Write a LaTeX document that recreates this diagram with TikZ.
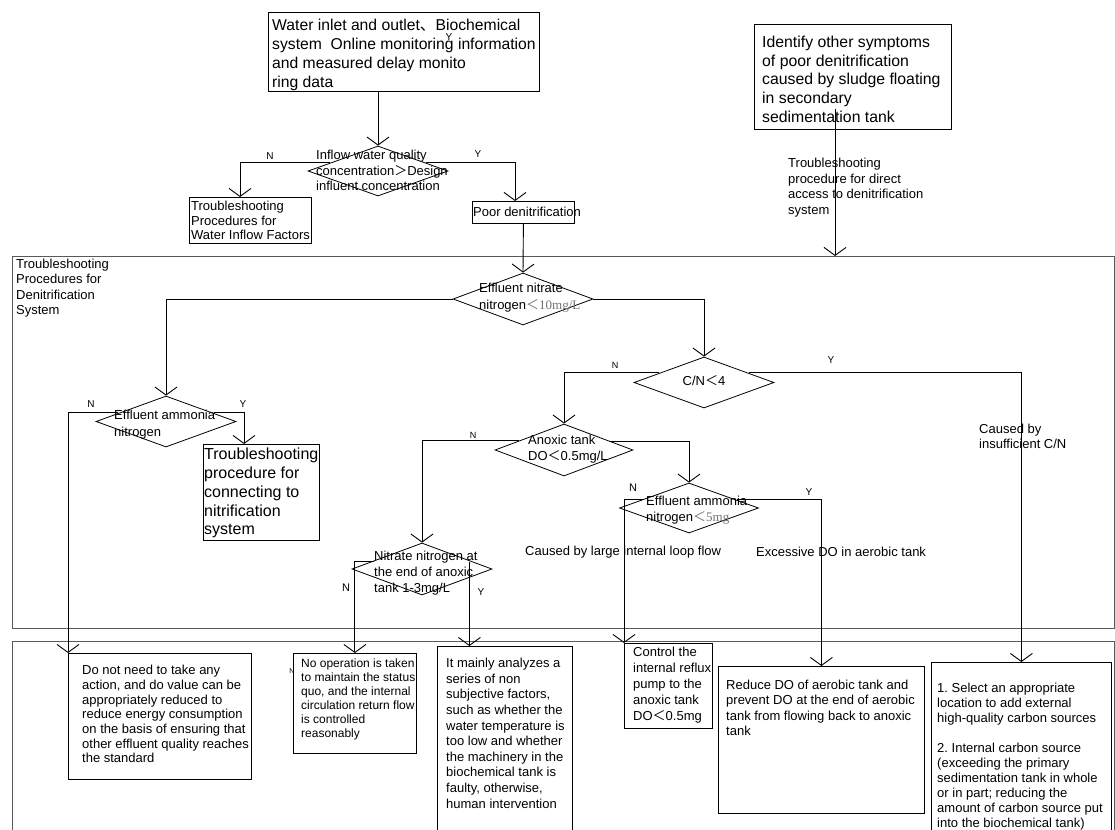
\documentclass[tikz,border=0pt]{standalone}
\usepackage{fontspec}
\setmainfont{Liberation Sans}
\newfontfamily\cjk{Noto Sans CJK SC}
\newfontfamily\serifx{Liberation Serif}
\usetikzlibrary{shapes.geometric,arrows.meta,calc}
\newcommand\myfs[2]{\fontsize{#1}{#2}\selectfont}
\newcommand\fwlt{{\cjk ＜}}
\newcommand\fwgt{{\cjk ＞}}
\frenchspacing
\tikzset{
 box/.style={draw, line width=0.8pt, inner sep=0pt, anchor=north west},
 dia/.style={draw, diamond, inner sep=0pt, line width=0.8pt},
 txt/.style={inner sep=0pt, anchor=north west, align=left},
 lab/.style={inner sep=0pt, font=\myfs{10}{12}},
 arr/.style={line width=0.9pt, -{Straight Barb[length=8pt,width=22pt]}},
 frm/.style={draw=black!65, line width=1.2pt, inner sep=0pt, anchor=north west}
}
\begin{document}
\begin{tikzpicture}[x=1pt,y=-1pt]
\useasboundingbox (0,0) rectangle (1115,829);
\clip (0,0) rectangle (1115,829);
\fill[white] (0,0) rectangle (1115,829);

% frames
\node[frm, minimum width=1102pt, minimum height=372pt] (f1) at (12,256) {};
\node[frm, minimum width=1102pt, minimum height=210pt] (f2) at (12,641) {};
\node[txt, font=\myfs{13}{15.3}] (f1t) at (16,259) {Troubleshooting\\Procedures for\\Denitrification\\System};

% top part
\node[box, minimum width=271pt, minimum height=79pt] (b0) at (268,12) {};
\node[txt, font=\myfs{15.7}{19}] (t0) at (272,19) {Water inlet and outlet{\cjk 、}Biochemical\\system\ \ Online monitoring information\\and measured delay monito\\ring data};
\node[lab] (ys) at (449,37) {Y};

\node[dia, minimum width=140pt, minimum height=50pt] (d1) at (378,171) {};
\node[txt, font=\myfs{13}{15.5}] (t1) at (316,150) {Inflow water quality\\concentration\fwgt Design\\influent concentration};
\node[lab] (n1) at (270,156) {N};
\node[lab] (y1) at (478,154) {Y};

\node[box, minimum width=122pt, minimum height=46pt] (b1) at (189,197) {};
\node[txt, font=\myfs{13}{14.5}] (tb1) at (191,201) {Troubleshooting\\Procedures for\\Water Inflow Factors};
\node[box, minimum width=102pt, minimum height=22pt] (b2) at (472,201) {};
\node[txt, font=\myfs{13}{15}] (tb2) at (473,207) {Poor denitrification};

\node[box, minimum width=197pt, minimum height=105pt] (b3) at (754,24) {};
\node[txt, font=\myfs{15.8}{18.6}] (tb3) at (762,36) {Identify other symptoms\\of poor denitrification\\caused by sludge floating\\in secondary\\sedimentation tank};
\node[txt, font=\myfs{13}{15.6}] (tl3) at (788,158) {Troubleshooting\\procedure for direct\\access to denitrification\\system};

% denitrification system
\node[dia, minimum width=140pt, minimum height=52pt] (d2) at (523,299) {};
\node[txt, font=\myfs{13}{17}] (t2) at (479,283) {Effluent nitrate\\nitrogen{\color{black!55}\fwlt{\serifx 10mg/L}}};

\node[dia, minimum width=140pt, minimum height=51pt] (d3) at (166,421.5) {};
\node[txt, font=\myfs{13}{17}] (t3) at (114,410) {Effluent ammonia\\nitrogen};
\node[lab] (n3) at (91,404) {N};
\node[lab] (y3) at (243,404) {Y};

\node[box, minimum width=116pt, minimum height=96pt] (b4) at (203,444) {};
\node[txt, font=\myfs{16}{18.8}] (tb4) at (204,448) {Troubleshooting\\procedure for\\connecting to\\nitrification\\system};

\node[dia, minimum width=140pt, minimum height=51pt] (d4) at (704,382.5) {};
\node[inner sep=0pt, font=\myfs{13}{15}] (t4) at (704,381) {C/N\fwlt 4};
\node[lab, font=\myfs{9}{11}] (n4) at (615,365) {N};
\node[lab] (y4) at (831,360) {Y};
\node[txt, font=\myfs{13}{15}] (tc4) at (979,424) {Caused by\\insufficient C/N};

\node[dia, minimum width=138pt, minimum height=52pt] (d5) at (564,450) {};
\node[txt, font=\myfs{13}{16}] (t5) at (528,435) {Anoxic tank\\DO\fwlt 0.5mg/L};
\node[lab, font=\myfs{9}{11}] (n5) at (473,435) {N};

\node[dia, minimum width=140pt, minimum height=52pt] (d6) at (422,569) {};
\node[txt, font=\myfs{13}{16}] (t6) at (374,551) {Nitrate nitrogen at\\the end of anoxic\\tank 1-3mg/L};
\node[lab, font=\myfs{11}{13}] (n6) at (346,588) {N};
\node[lab] (y6l) at (481,592) {Y};

\node[dia, minimum width=139pt, minimum height=50pt] (d7) at (689,508) {};
\node[txt, font=\myfs{13}{16}] (t7) at (646,496) {Effluent ammonia\\nitrogen{\color{black!55}\fwlt{\serifx 5mg}}};
\node[lab, font=\myfs{11}{13}] (n7) at (633,488) {N};
\node[lab] (y7) at (809,492) {Y};

\node[txt, font=\myfs{13}{15}] (c7a) at (525,546) {Caused by large internal loop flow};
\node[txt, font=\myfs{13}{15}] (c7b) at (756,547) {Excessive DO in aerobic tank};

% bottom boxes
\node[box, minimum width=183pt, minimum height=126pt] (b5) at (68,653) {};
\node[txt, font=\myfs{13}{14.7}] (tb5) at (82,665) {Do not need to take any\\action, and do value can be\\appropriately reduced to\\reduce energy consumption\\on the basis of ensuring that\\other effluent quality reaches\\the standard};

\node[box, minimum width=123pt, minimum height=100pt] (b6) at (293,653) {};
\node[txt, font=\myfs{12}{14}] (tb6) at (301,659) {No operation is taken\\to maintain the status\\quo, and the internal\\circulation return flow\\is controlled\\reasonably};
\node[inner sep=0pt, font=\myfs{7}{8}] (nb6) at (292,671) {N};

\node[box, minimum width=135pt, minimum height=190pt] (b7) at (437,646) {};
\node[txt, font=\myfs{13}{15.6}] (tb7) at (446,658) {It mainly analyzes a\\series of non\\subjective factors,\\such as whether the\\water temperature is\\too low and whether\\the machinery in the\\biochemical tank is\\faulty, otherwise,\\human intervention};

\node[box, minimum width=88pt, minimum height=85pt] (b8) at (624,643) {};
\node[txt, font=\myfs{13}{16}] (tb8) at (633,647) {Control the\\internal reflux\\pump to the\\anoxic tank\\DO\fwlt 0.5mg};

\node[box, minimum width=206pt, minimum height=147pt] (b10) at (718,666) {};
\node[txt, font=\myfs{13}{15.3}] (tb10) at (726,680) {Reduce DO of aerobic tank and\\prevent DO at the end of aerobic\\tank from flowing back to anoxic\\tank};

\node[box, minimum width=180pt, minimum height=180pt] (b9) at (931,662) {};
\node[txt, font=\myfs{13}{15}] (tb9) at (937,683) {1. Select an appropriate\\location to add external\\high-quality carbon sources\\[15pt]2. Internal carbon source\\(exceeding the primary\\sedimentation tank in whole\\or in part; reducing the\\amount of carbon source put\\into the biochemical tank)};

% connectors
\draw[arr] (d1.north |- b0.south) -- (d1.north);
\draw[arr] ($(d1.west)+(22,-9)$) -| ($(b1.north west)+(51,0)$);
\draw[arr] ($(d1.east)+(-22,-9)$) -| ($(b2.north west)+(43,0)$);
\coordinate (c3) at ($(b3.south west)+(81,-21)$);
\draw[arr] (c3) -- (c3 |- f1.north);

\draw[arr] (b2.south) -- (d2.north);
\draw[arr] (d2.west) -| (d3.north);
\draw[arr] (d2.east) -| (d4.north);

\draw[arr] ($(d3.west)+(22,-9)$) -| (b5.north west);
\draw[arr] ($(d3.east)+(-22,-9)$) -| ($(b4.north west)+(41,0)$);

\draw[arr] ($(d4.west)+(25,-10)$) -| (d5.north);
\draw[arr] ($(d4.east)+(-25,-10)$) -| (b9.north);

\draw[arr] ($(d5.west)+(24,-10)$) -| (d6.north);
\draw[arr] ($(d5.east)+(-24,-9)$) -| (d7.north);

\draw[arr] ($(d6.west)+(22,-8)$) -| (b6.north);
\coordinate (y6) at ($(d6.east)+(-23,-7)$);
\draw[arr] (y6) -- (y6 |- b7.north);

\draw[arr] ($(d7.west)+(24,-9)$) -| (b8.north west);
\draw[arr] ($(d7.east)+(-22,-9)$) -| (b10.north);
\end{tikzpicture}
\end{document}
